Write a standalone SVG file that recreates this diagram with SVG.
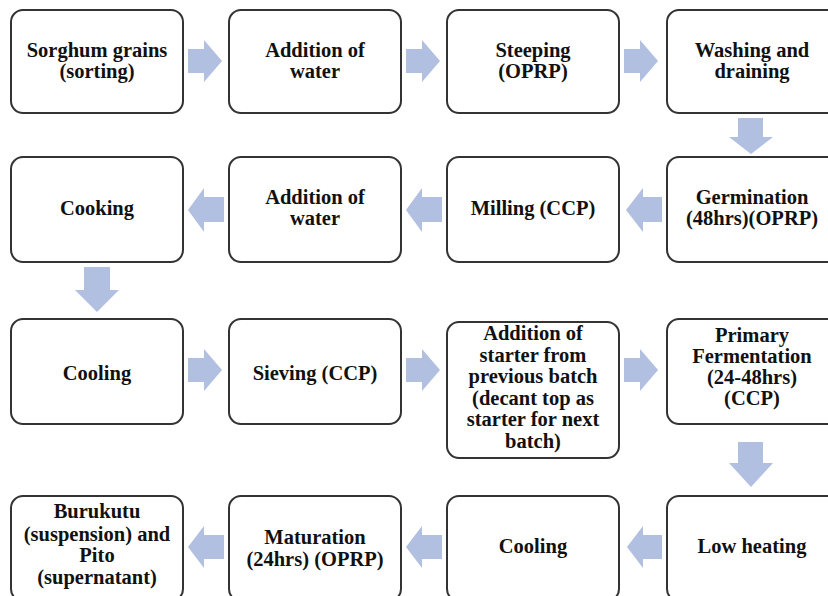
<svg xmlns="http://www.w3.org/2000/svg" width="828" height="596" viewBox="0 0 828 596">
<style>
.box{fill:#ffffff;stroke:#333333;stroke-width:2}
.t{font-weight:700;font-size:20.5px;fill:#111111;text-anchor:middle}
.ar{fill:#B1BFE0}
</style>
<rect width="828" height="596" fill="#ffffff"/>
<g font-family="Liberation Serif, Tinos, Times New Roman, DejaVu Serif, Noto Serif, serif">
<g id="n1"><rect class="box" x="11" y="10" width="172" height="103" rx="12"/><text class="t" x="97" y="57">Sorghum grains</text><text class="t" x="97" y="78">(sorting)</text></g>
<g id="n2"><rect class="box" x="229" y="10" width="172" height="103" rx="12"/><text class="t" x="315" y="57">Addition of</text><text class="t" x="315" y="78">water</text></g>
<g id="n3"><rect class="box" x="447" y="10" width="172" height="103" rx="12"/><text class="t" x="533" y="57">Steeping</text><text class="t" x="533" y="78">(OPRP)</text></g>
<g id="n4"><rect class="box" x="667" y="10" width="172" height="103" rx="12"/><text class="t" x="752" y="57">Washing and</text><text class="t" x="752" y="78">draining</text></g>
<g id="n5"><rect class="box" x="667" y="157" width="172" height="105" rx="12"/><text class="t" x="752" y="204">Germination</text><text class="t" x="752" y="225">(48hrs)(OPRP)</text></g>
<g id="n6"><rect class="box" x="447" y="157" width="172" height="105" rx="12"/><text class="t" x="533" y="215">Milling (CCP)</text></g>
<g id="n7"><rect class="box" x="229" y="157" width="172" height="105" rx="12"/><text class="t" x="315" y="204">Addition of</text><text class="t" x="315" y="225">water</text></g>
<g id="n8"><rect class="box" x="11" y="157" width="172" height="105" rx="12"/><text class="t" x="97" y="215">Cooking</text></g>
<g id="n9"><rect class="box" x="11" y="319" width="172" height="105" rx="12"/><text class="t" x="97" y="380">Cooling</text></g>
<g id="n10"><rect class="box" x="229" y="319" width="172" height="105" rx="12"/><text class="t" x="315" y="380">Sieving (CCP)</text></g>
<g id="n11"><rect class="box" x="447" y="322" width="172" height="136" rx="12"/><text class="t" x="533" y="340">Addition of</text><text class="t" x="533" y="361.5">starter from</text><text class="t" x="533" y="383">previous batch</text><text class="t" x="533" y="404.5">(decant top as</text><text class="t" x="533" y="426">starter for next</text><text class="t" x="533" y="447.5">batch)</text></g>
<g id="n12"><rect class="box" x="667" y="319" width="172" height="105" rx="12"/><text class="t" x="752" y="342">Primary</text><text class="t" x="752" y="363">Fermentation</text><text class="t" x="752" y="384">(24-48hrs)</text><text class="t" x="752" y="405">(CCP)</text></g>
<g id="n13"><rect class="box" x="667" y="496" width="172" height="105" rx="12"/><text class="t" x="752" y="553">Low heating</text></g>
<g id="n14"><rect class="box" x="447" y="496" width="172" height="105" rx="12"/><text class="t" x="533" y="553">Cooling</text></g>
<g id="n15"><rect class="box" x="229" y="496" width="172" height="105" rx="12"/><text class="t" x="315" y="544">Maturation</text><text class="t" x="315" y="566">(24hrs) (OPRP)</text></g>
<g id="n16"><rect class="box" x="11" y="496" width="172" height="105" rx="12"/><text class="t" x="97" y="518">Burukutu</text><text class="t" x="97" y="540.5">(suspension) and</text><text class="t" x="97" y="562">Pito</text><text class="t" x="97" y="584">(supernatant)</text></g>
</g>
<g id="connectors">
<polygon class="ar" points="188,49 204,49 204,40 222,61 204,82 204,73 188,73"/>
<polygon class="ar" points="406,49 422,49 422,40 440,61 422,82 422,73 406,73"/>
<polygon class="ar" points="624,49 640,49 640,40 658,61 640,82 640,73 624,73"/>
<polygon class="ar" points="738,118 763,118 763,137 773,137 751,154 729,137 738,137"/>
<polygon class="ar" points="224,197 204,197 204,188 188,210 204,232 204,222 224,222"/>
<polygon class="ar" points="442,197 422,197 422,188 406,210 422,232 422,222 442,222"/>
<polygon class="ar" points="662,197 643,197 643,188 626,210 643,232 643,222 662,222"/>
<polygon class="ar" points="84,267 110,267 110,290 119,290 97,312 75,290 84,290"/>
<polygon class="ar" points="188,358 204,358 204,349 222,370 204,391 204,382 188,382"/>
<polygon class="ar" points="406,358 422,358 422,349 440,370 422,391 422,382 406,382"/>
<polygon class="ar" points="624,358 640,358 640,349 658,370 640,391 640,382 624,382"/>
<polygon class="ar" points="738,442 763,442 763,463 773,463 751,487 729,463 738,463"/>
<polygon class="ar" points="224,535 204,535 204,526 188,547 204,568 204,559 224,559"/>
<polygon class="ar" points="442,535 422,535 422,526 406,547 422,568 422,559 442,559"/>
<polygon class="ar" points="662,535 643,535 643,526 627,547 643,568 643,559 662,559"/>
</g>
</svg>
